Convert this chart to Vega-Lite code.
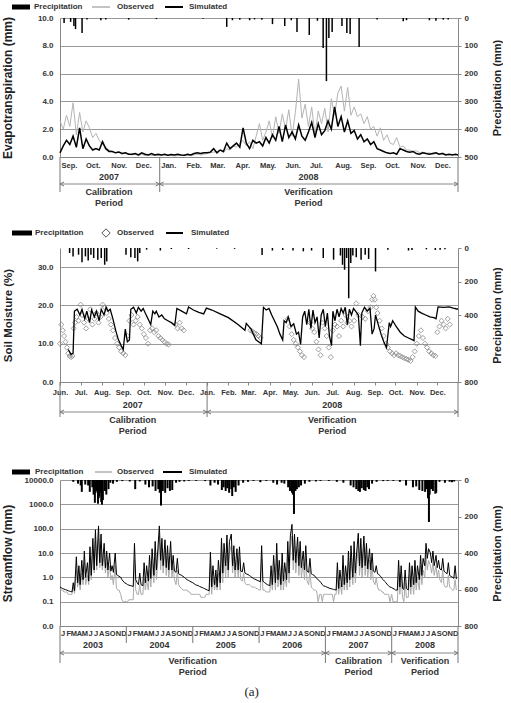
{
"$schema":"https://vega.github.io/schema/vega-lite/v6.json",
"padding":{"left":1,"top":0,"right":0,"bottom":4},
"spacing":0,
"bounds":"flush",
"title":{"text":"(a)","orient":"bottom","anchor":"middle","font":"Liberation Serif","fontSize":13,"fontWeight":"normal","color":"#222","offset":6},
"config":{"view":{"stroke":null},"font":"Liberation Sans",
 "axis":{"labelFont":"Liberation Sans","labelFontWeight":"bold","labelColor":"#333","titleFont":"Liberation Sans","titleFontWeight":"bold","titleColor":"#222","domainColor":"#888","tickColor":"#888","gridColor":"#999","labelFontSize":8,"labelOverlap":false},
 "text":{"font":"Liberation Sans","fontWeight":"bold","color":"#333"}},
"vconcat":[
{"width":398,"height":18,
 "encoding":{"y":{"datum":7,"type":"quantitative","scale":{"domain":[0,18],"reverse":true,"nice":false},"axis":null}},
 "layer":[
  {"data":{"values":[{"a":-48,"b":-30}]},"mark":{"type":"rule","color":"#000","strokeWidth":5},"encoding":{"x":{"field":"a","type":"quantitative","scale":{"domain":[0,398],"nice":false},"axis":null},"x2":{"field":"b"}}},
  {"data":{"values":[{"a":32,"b":50}]},"mark":{"type":"rule","color":"#b0b0b0","strokeWidth":1.5},"encoding":{"x":{"field":"a","type":"quantitative","scale":{"domain":[0,398],"nice":false},"axis":null},"x2":{"field":"b"}}},
  {"data":{"values":[{"a":105,"b":123}]},"mark":{"type":"rule","color":"#000","strokeWidth":2},"encoding":{"x":{"field":"a","type":"quantitative","scale":{"domain":[0,398],"nice":false},"axis":null},"x2":{"field":"b"}}},
  {"data":{"values":[{"a":-26,"t":"Precipitation"},{"a":57,"t":"Observed"},{"a":129,"t":"Simulated"}]},"mark":{"type":"text","align":"left","baseline":"middle","fontSize":8},"encoding":{"x":{"field":"a","type":"quantitative","scale":{"domain":[0,398],"nice":false},"axis":null},"text":{"field":"t"}}}
 ]},
{"width":398,"height":139,
 "encoding":{"x":{"field":"d","type":"temporal","scale":{"domain":[{"year":2007,"month":9,"date":1},{"year":2008,"month":12,"date":31}]},"axis":{"title":null,"format":"%b.","tickCount":{"interval":"month","step":1},"labelAlign":"left","labelFontSize":7.5,"labelPadding":4,"ticks":false,"grid":false,"labelOverlap":false,"labelFlush":false,"labelBound":false,"labelOffset":1}}},
 "layer":[
  {"data":{"values":[
{"d":"2007-09-01","o":2.6,"s":0.3},{"d":"2007-09-05","o":2.0,"s":0.8},{"d":"2007-09-09","o":3.0,"s":1.2},{"d":"2007-09-13","o":2.2,"s":0.9},{"d":"2007-09-17","o":3.9,"s":1.5},{"d":"2007-09-21","o":1.6,"s":0.7},{"d":"2007-09-25","o":3.2,"s":2.1},{"d":"2007-09-29","o":1.8,"s":0.6},
{"d":"2007-10-03","o":2.6,"s":1.3},{"d":"2007-10-07","o":2.1,"s":0.8},{"d":"2007-10-11","o":1.4,"s":0.5},{"d":"2007-10-15","o":1.7,"s":0.6},{"d":"2007-10-19","o":1.2,"s":0.5},{"d":"2007-10-23","o":0.9,"s":1.1},{"d":"2007-10-27","o":0.7,"s":0.6},{"d":"2007-10-31","o":0.5,"s":0.4},
{"d":"2007-11-04","o":0.4,"s":0.4},{"d":"2007-11-08","o":0.3,"s":0.3},{"d":"2007-11-12","o":0.35,"s":0.35},{"d":"2007-11-16","o":0.2,"s":0.25},{"d":"2007-11-20","o":0.3,"s":0.3},{"d":"2007-11-24","o":0.2,"s":0.2},{"d":"2007-11-28","o":0.15,"s":0.2},
{"d":"2007-12-02","o":0.2,"s":0.25},{"d":"2007-12-06","o":0.1,"s":0.15},{"d":"2007-12-10","o":0.2,"s":0.3},{"d":"2007-12-14","o":0.1,"s":0.2},{"d":"2007-12-18","o":0.15,"s":0.15},{"d":"2007-12-22","o":0.1,"s":0.25},{"d":"2007-12-26","o":0.12,"s":0.15},{"d":"2007-12-30","o":0.1,"s":0.2},
{"d":"2008-01-03","o":0.1,"s":0.15},{"d":"2008-01-07","o":0.15,"s":0.2},{"d":"2008-01-11","o":0.1,"s":0.12},{"d":"2008-01-15","o":0.12,"s":0.18},{"d":"2008-01-19","o":0.08,"s":0.15},{"d":"2008-01-23","o":0.1,"s":0.2},{"d":"2008-01-27","o":0.15,"s":0.15},{"d":"2008-01-31","o":0.1,"s":0.12},
{"d":"2008-02-04","o":0.12,"s":0.2},{"d":"2008-02-08","o":0.1,"s":0.15},{"d":"2008-02-12","o":0.15,"s":0.25},{"d":"2008-02-16","o":0.2,"s":0.3},{"d":"2008-02-20","o":0.15,"s":0.25},{"d":"2008-02-24","o":0.2,"s":0.3},{"d":"2008-02-28","o":0.25,"s":0.3},
{"d":"2008-03-03","o":0.3,"s":0.35},{"d":"2008-03-07","o":0.35,"s":0.6},{"d":"2008-03-11","o":0.4,"s":0.3},{"d":"2008-03-15","o":0.5,"s":0.5},{"d":"2008-03-19","o":0.3,"s":0.4},{"d":"2008-03-23","o":0.6,"s":1.0},{"d":"2008-03-27","o":0.5,"s":0.6},{"d":"2008-03-31","o":0.8,"s":0.8},
{"d":"2008-04-04","o":0.7,"s":1.0},{"d":"2008-04-08","o":1.0,"s":0.7},{"d":"2008-04-12","o":1.2,"s":2.1},{"d":"2008-04-16","o":0.8,"s":1.0},{"d":"2008-04-20","o":1.1,"s":0.6},{"d":"2008-04-24","o":0.6,"s":1.2},{"d":"2008-04-28","o":1.5,"s":1.0},
{"d":"2008-05-02","o":2.4,"s":1.1},{"d":"2008-05-06","o":1.2,"s":0.8},{"d":"2008-05-10","o":1.8,"s":1.4},{"d":"2008-05-14","o":2.6,"s":1.0},{"d":"2008-05-18","o":1.4,"s":1.6},{"d":"2008-05-22","o":2.9,"s":1.2},{"d":"2008-05-26","o":1.7,"s":2.2},{"d":"2008-05-30","o":3.1,"s":1.1},
{"d":"2008-06-03","o":2.0,"s":2.3},{"d":"2008-06-07","o":3.4,"s":1.4},{"d":"2008-06-11","o":1.5,"s":1.8},{"d":"2008-06-15","o":3.2,"s":1.3},{"d":"2008-06-19","o":5.6,"s":2.3},{"d":"2008-06-23","o":2.8,"s":1.5},{"d":"2008-06-27","o":3.8,"s":1.2},
{"d":"2008-07-01","o":2.2,"s":1.8},{"d":"2008-07-05","o":3.6,"s":2.5},{"d":"2008-07-09","o":1.6,"s":1.4},{"d":"2008-07-13","o":3.3,"s":2.4},{"d":"2008-07-17","o":2.4,"s":1.6},{"d":"2008-07-21","o":3.5,"s":1.9},{"d":"2008-07-25","o":1.8,"s":2.6},{"d":"2008-07-29","o":4.2,"s":2.0},
{"d":"2008-08-02","o":3.0,"s":3.6},{"d":"2008-08-06","o":4.6,"s":2.2},{"d":"2008-08-10","o":5.1,"s":2.9},{"d":"2008-08-14","o":3.3,"s":1.8},{"d":"2008-08-18","o":5.0,"s":2.6},{"d":"2008-08-22","o":3.0,"s":1.7},{"d":"2008-08-26","o":3.6,"s":1.9},{"d":"2008-08-30","o":2.9,"s":1.3},
{"d":"2008-09-03","o":3.1,"s":1.6},{"d":"2008-09-07","o":2.4,"s":1.1},{"d":"2008-09-11","o":2.9,"s":1.3},{"d":"2008-09-15","o":2.0,"s":0.9},{"d":"2008-09-19","o":2.2,"s":1.1},{"d":"2008-09-23","o":1.5,"s":0.6},{"d":"2008-09-27","o":2.1,"s":0.5},
{"d":"2008-10-01","o":1.2,"s":0.4},{"d":"2008-10-05","o":1.6,"s":0.3},{"d":"2008-10-09","o":1.0,"s":0.25},{"d":"2008-10-13","o":0.9,"s":0.3},{"d":"2008-10-17","o":1.4,"s":0.2},{"d":"2008-10-21","o":0.7,"s":0.6},{"d":"2008-10-25","o":0.8,"s":0.5},{"d":"2008-10-29","o":0.5,"s":0.4},
{"d":"2008-11-02","o":0.5,"s":0.35},{"d":"2008-11-06","o":0.4,"s":0.4},{"d":"2008-11-10","o":0.45,"s":0.25},{"d":"2008-11-14","o":0.3,"s":0.2},{"d":"2008-11-18","o":0.35,"s":0.3},{"d":"2008-11-22","o":0.25,"s":0.25},{"d":"2008-11-26","o":0.3,"s":0.2},{"d":"2008-11-30","o":0.2,"s":0.25},
{"d":"2008-12-04","o":0.25,"s":0.3},{"d":"2008-12-08","o":0.2,"s":0.2},{"d":"2008-12-12","o":0.3,"s":0.25},{"d":"2008-12-16","o":0.2,"s":0.15},{"d":"2008-12-20","o":0.15,"s":0.2},{"d":"2008-12-24","o":0.2,"s":0.15},{"d":"2008-12-28","o":0.15,"s":0.2},{"d":"2008-12-31","o":0.2,"s":0.15}
  ]},
  "layer":[
   {"mark":{"type":"line","color":"#b4b4b4","strokeWidth":1},"encoding":{"y":{"field":"o","type":"quantitative","title":"Evapotranspiration (mm)","scale":{"domain":[0,10],"nice":false},"axis":{"orient":"left","values":[0,2,4,6,8,10],"format":".1f","ticks":false,"labelPadding":7,"grid":true,"labelOverlap":false,"titleFontSize":12,"titlePadding":23}}}},
   {"mark":{"type":"line","color":"#000","strokeWidth":1.5},"encoding":{"y":{"field":"s","type":"quantitative","title":"Evapotranspiration (mm)","scale":{"domain":[0,10],"nice":false},"axis":{"orient":"left","values":[0,2,4,6,8,10],"format":".1f","ticks":false,"labelPadding":7,"grid":true,"labelOverlap":false,"titleFontSize":12,"titlePadding":23}}}}
  ]},
  {"data":{"values":[
{"d":"2007-09-06","p":18},{"d":"2007-09-14","p":14},{"d":"2007-09-18","p":29},{"d":"2007-09-20","p":40},{"d":"2007-09-28","p":54},{"d":"2007-10-04","p":5},{"d":"2007-10-21","p":8},{"d":"2007-10-27","p":5},{"d":"2007-11-24","p":6},{"d":"2007-12-28","p":4},
{"d":"2008-02-23","p":3},{"d":"2008-03-23","p":32},{"d":"2008-03-30","p":8},{"d":"2008-04-08","p":6},{"d":"2008-04-20","p":8},{"d":"2008-04-26","p":5},{"d":"2008-05-05","p":6},{"d":"2008-05-18","p":22},{"d":"2008-06-02","p":29},{"d":"2008-06-10","p":8},{"d":"2008-06-17","p":50},
{"d":"2008-07-02","p":61},{"d":"2008-07-12","p":10},{"d":"2008-07-19","p":108},{"d":"2008-07-23","p":227},{"d":"2008-07-26","p":72},{"d":"2008-07-30","p":50},{"d":"2008-08-11","p":29},{"d":"2008-08-17","p":54},{"d":"2008-08-21","p":58},{"d":"2008-09-01","p":104},{"d":"2008-09-23","p":5},
{"d":"2008-10-25","p":12},{"d":"2008-10-29","p":8},{"d":"2008-11-26","p":8},{"d":"2008-12-04","p":10},{"d":"2008-12-13","p":6},{"d":"2008-12-19","p":5}
  ]},
  "mark":{"type":"rule","color":"#000","strokeWidth":1.5},
  "encoding":{"y":{"field":"p","type":"quantitative","title":"Precipitation (mm)","scale":{"domain":[0,500],"reverse":true,"nice":false},"axis":{"orient":"right","values":[0,100,200,300,400,500],"format":"d","tickSize":3,"labelPadding":3,"grid":false,"labelOverlap":false,"titleFontSize":11,"titleAngle":270,"titleBaseline":"top","titlePadding":14}},"y2":{"datum":0}}}
 ],
 "resolve":{"scale":{"y":"independent"}}},
{"width":398,"height":69,
 "encoding":{"y":{"datum":0,"type":"quantitative","scale":{"domain":[0,69],"reverse":true,"nice":false},"axis":null}},
 "layer":[
  {"data":{"values":[{"d":"2007-09-01"},{"d":"2008-01-01"},{"d":"2008-12-31"}]},"mark":{"type":"rule","color":"#777","strokeWidth":1},"encoding":{"x":{"field":"d","type":"temporal","scale":{"domain":[{"year":2007,"month":9,"date":1},{"year":2008,"month":12,"date":31}]},"axis":null},"y2":{"datum":35}}},
  {"data":{"values":[{"m":"2007-10-31","t":"2007"},{"m":"2008-07-01","t":"2008"}]},"mark":{"type":"text","fontSize":9,"baseline":"middle"},"encoding":{"x":{"field":"m","type":"temporal","scale":{"domain":[{"year":2007,"month":9,"date":1},{"year":2008,"month":12,"date":31}]},"axis":null},"y":{"datum":20,"type":"quantitative","scale":{"domain":[0,69],"reverse":true,"nice":false},"axis":null},"text":{"field":"t"}}},
  {"data":{"values":[{"a":"2007-09-01","b":"2008-01-01"},{"a":"2008-01-01","b":"2008-12-31"}]},
   "encoding":{"y":{"datum":27,"type":"quantitative","scale":{"domain":[0,69],"reverse":true,"nice":false},"axis":null}},
   "layer":[
    {"mark":{"type":"rule","color":"#888","strokeWidth":1},"encoding":{"x":{"field":"a","type":"temporal","scale":{"domain":[{"year":2007,"month":9,"date":1},{"year":2008,"month":12,"date":31}]},"axis":null},"x2":{"field":"b"}}},
    {"mark":{"type":"point","shape":"M2,-1L0,0L2,1","filled":false,"size":16,"color":"#777","strokeWidth":1,"opacity":1},"encoding":{"x":{"field":"a","type":"temporal","scale":{"domain":[{"year":2007,"month":9,"date":1},{"year":2008,"month":12,"date":31}]},"axis":null}}},
    {"mark":{"type":"point","shape":"M-2,-1L0,0L-2,1","filled":false,"size":16,"color":"#777","strokeWidth":1,"opacity":1},"encoding":{"x":{"field":"b","type":"temporal","scale":{"domain":[{"year":2007,"month":9,"date":1},{"year":2008,"month":12,"date":31}]},"axis":null}}}
   ]},
  {"data":{"values":[{"m":"2007-10-31","t":"Calibration\nPeriod"},{"m":"2008-07-01","t":"Verification\nPeriod"}]},"mark":{"type":"text","fontSize":9,"baseline":"top","lineBreak":"\n","lineHeight":11},"encoding":{"x":{"field":"m","type":"temporal","scale":{"domain":[{"year":2007,"month":9,"date":1},{"year":2008,"month":12,"date":31}]},"axis":null},"y":{"datum":31,"type":"quantitative","scale":{"domain":[0,69],"reverse":true,"nice":false},"axis":null},"text":{"field":"t"}}}
 ]},
{"width":398,"height":22,
 "encoding":{"y":{"datum":7,"type":"quantitative","scale":{"domain":[0,22],"reverse":true,"nice":false},"axis":null}},
 "layer":[
  {"data":{"values":[{"a":-48,"b":-28}]},"mark":{"type":"rule","color":"#000","strokeWidth":5},"encoding":{"x":{"field":"a","type":"quantitative","scale":{"domain":[0,398],"nice":false},"axis":null},"x2":{"field":"b"}}},
  {"data":{"values":[{"a":46}]},"mark":{"type":"point","shape":"diamond","filled":false,"size":70,"color":"#555","strokeWidth":1,"opacity":1},"encoding":{"x":{"field":"a","type":"quantitative","scale":{"domain":[0,398],"nice":false},"axis":null}}},
  {"data":{"values":[{"a":106,"b":123}]},"mark":{"type":"rule","color":"#000","strokeWidth":2},"encoding":{"x":{"field":"a","type":"quantitative","scale":{"domain":[0,398],"nice":false},"axis":null},"x2":{"field":"b"}}},
  {"data":{"values":[{"a":-25,"t":"Precipitation"},{"a":57,"t":"Observed"},{"a":131,"t":"Simulated"}]},"mark":{"type":"text","align":"left","baseline":"middle","fontSize":8},"encoding":{"x":{"field":"a","type":"quantitative","scale":{"domain":[0,398],"nice":false},"axis":null},"text":{"field":"t"}}}
 ]},
{"width":398,"height":134,
 "encoding":{"x":{"field":"d","type":"temporal","scale":{"domain":[{"year":2007,"month":6,"date":1},{"year":2008,"month":12,"date":31}]},"axis":{"title":null,"format":"%b.","tickCount":{"interval":"month","step":1},"labelAlign":"center","labelFontSize":7.5,"labelPadding":3,"ticks":true,"tickSize":3,"grid":false,"labelOverlap":false,"labelFlush":false,"labelBound":false}}},
 "layer":[
  {"layer":[
   {"data":{"values":[
{"d":"2007-06-01","v":10.0},{"d":"2007-06-03","v":15.0},{"d":"2007-06-05","v":13.5},{"d":"2007-06-07","v":12.0},{"d":"2007-06-09","v":10.5},{"d":"2007-06-11","v":9.0},{"d":"2007-06-13","v":7.5},{"d":"2007-06-15","v":6.8},{"d":"2007-06-17","v":6.5},{"d":"2007-06-19","v":6.8},{"d":"2007-06-21","v":14.0},{"d":"2007-06-23","v":15.5},{"d":"2007-06-25","v":17.0},{"d":"2007-06-28","v":16.0},
{"d":"2007-07-01","v":20.2},{"d":"2007-07-03","v":17.5},{"d":"2007-07-06","v":15.5},{"d":"2007-07-09","v":14.0},{"d":"2007-07-12","v":16.5},{"d":"2007-07-15","v":19.0},{"d":"2007-07-18","v":15.0},{"d":"2007-07-21","v":16.5},{"d":"2007-07-24","v":18.0},{"d":"2007-07-27","v":15.5},{"d":"2007-07-30","v":17.0},
{"d":"2007-08-02","v":20.2},{"d":"2007-08-05","v":19.5},{"d":"2007-08-08","v":18.0},{"d":"2007-08-11","v":16.5},{"d":"2007-08-14","v":15.0},{"d":"2007-08-17","v":13.5},{"d":"2007-08-20","v":11.5},{"d":"2007-08-23","v":10.0},{"d":"2007-08-26","v":9.0},{"d":"2007-08-29","v":8.0},
{"d":"2007-09-01","v":7.5},{"d":"2007-09-04","v":7.0},{"d":"2007-09-07","v":12.0},{"d":"2007-09-10","v":16.0},{"d":"2007-09-13","v":17.5},{"d":"2007-09-16","v":15.0},{"d":"2007-09-19","v":16.0},{"d":"2007-09-22","v":17.0},{"d":"2007-09-25","v":15.0},{"d":"2007-09-28","v":14.0},
{"d":"2007-10-01","v":12.5},{"d":"2007-10-04","v":11.5},{"d":"2007-10-07","v":10.0},{"d":"2007-10-10","v":13.5},{"d":"2007-10-13","v":14.0},{"d":"2007-10-16","v":13.0},{"d":"2007-10-19","v":13.5},{"d":"2007-10-22","v":12.0},{"d":"2007-10-25","v":11.5},{"d":"2007-10-28","v":11.0},{"d":"2007-10-31","v":10.5},
{"d":"2007-11-03","v":10.0},{"d":"2007-11-06","v":9.8},{"d":"2007-11-16","v":15.0},{"d":"2007-11-19","v":14.0},{"d":"2007-11-22","v":15.5},{"d":"2007-11-25","v":14.0},{"d":"2007-11-28","v":13.5},
{"d":"2008-03-04","v":13.5},{"d":"2008-03-07","v":13.2},{"d":"2008-03-10","v":12.8},{"d":"2008-03-13","v":12.5},{"d":"2008-03-16","v":12.0},{"d":"2008-03-19","v":11.5},
{"d":"2008-04-27","v":16.5},{"d":"2008-04-30","v":14.5},{"d":"2008-05-03","v":12.5},{"d":"2008-05-06","v":11.0},{"d":"2008-05-09","v":10.0},{"d":"2008-05-12","v":9.0},{"d":"2008-05-15","v":8.0},{"d":"2008-05-18","v":7.0},{"d":"2008-05-21","v":6.5},
{"d":"2008-05-30","v":15.5},{"d":"2008-06-02","v":14.0},{"d":"2008-06-05","v":13.0},{"d":"2008-06-08","v":10.5},{"d":"2008-06-11","v":8.5},{"d":"2008-06-14","v":7.0},{"d":"2008-06-17","v":15.5},{"d":"2008-06-20","v":14.0},{"d":"2008-06-23","v":12.0},{"d":"2008-06-26","v":9.0},{"d":"2008-06-29","v":6.5},
{"d":"2008-07-02","v":13.5},{"d":"2008-07-05","v":15.0},{"d":"2008-07-08","v":14.5},{"d":"2008-07-11","v":12.0},{"d":"2008-07-14","v":16.0},{"d":"2008-07-17","v":14.5},{"d":"2008-07-20","v":17.5},{"d":"2008-07-23","v":15.5},{"d":"2008-07-26","v":16.0},{"d":"2008-07-29","v":14.5},
{"d":"2008-08-02","v":16.0},{"d":"2008-08-05","v":20.5},{"d":"2008-08-08","v":17.5},{"d":"2008-08-14","v":17.0},{"d":"2008-08-18","v":16.5},{"d":"2008-08-22","v":18.5},{"d":"2008-08-26","v":19.5},{"d":"2008-08-28","v":21.5},{"d":"2008-08-30","v":22.5},
{"d":"2008-09-01","v":21.5},{"d":"2008-09-03","v":19.5},{"d":"2008-09-05","v":18.0},{"d":"2008-09-08","v":16.0},{"d":"2008-09-11","v":14.0},{"d":"2008-09-14","v":12.0},{"d":"2008-09-17","v":10.0},{"d":"2008-09-20","v":9.0},{"d":"2008-09-23","v":8.0},{"d":"2008-09-26","v":7.5},{"d":"2008-09-29","v":7.0},
{"d":"2008-10-02","v":7.5},{"d":"2008-10-05","v":7.0},{"d":"2008-10-08","v":6.8},{"d":"2008-10-11","v":6.5},{"d":"2008-10-14","v":6.2},{"d":"2008-10-17","v":6.0},{"d":"2008-10-20","v":5.8},{"d":"2008-10-23","v":5.5},{"d":"2008-10-26","v":6.5},{"d":"2008-10-29","v":8.0},
{"d":"2008-11-01","v":10.0},{"d":"2008-11-04","v":12.0},{"d":"2008-11-07","v":13.5},{"d":"2008-11-10","v":11.5},{"d":"2008-11-13","v":10.0},{"d":"2008-11-16","v":9.0},{"d":"2008-11-19","v":8.0},{"d":"2008-11-22","v":7.5},{"d":"2008-11-25","v":7.0},{"d":"2008-11-28","v":6.8},
{"d":"2008-12-01","v":13.0},{"d":"2008-12-04","v":14.5},{"d":"2008-12-07","v":16.0},{"d":"2008-12-10","v":15.0},{"d":"2008-12-13","v":14.0},{"d":"2008-12-16","v":16.5},{"d":"2008-12-19","v":15.0}
   ]},
   "mark":{"type":"point","shape":"diamond","filled":false,"size":26,"color":"#888","strokeWidth":0.8,"opacity":1},
   "encoding":{"y":{"field":"v","type":"quantitative","title":"Soil Moisture (%)","scale":{"domain":[0,35],"nice":false},"axis":{"orient":"left","values":[0,10,20,30],"format":".1f","ticks":false,"labelPadding":7,"grid":true,"labelOverlap":false,"titleFontSize":11.5,"titlePadding":24}}}},
   {"data":{"values":[
{"d":"2007-06-13","v":8.5},{"d":"2007-06-17","v":7.2},{"d":"2007-06-20","v":7.5},{"d":"2007-06-22","v":18.5},{"d":"2007-06-26","v":19.0},{"d":"2007-06-30","v":17.5},{"d":"2007-07-03","v":19.0},{"d":"2007-07-07","v":16.5},{"d":"2007-07-10","v":18.5},{"d":"2007-07-14","v":15.5},{"d":"2007-07-17","v":18.8},{"d":"2007-07-21","v":17.0},{"d":"2007-07-24","v":18.5},{"d":"2007-07-28","v":16.0},{"d":"2007-07-31","v":19.0},
{"d":"2007-08-04","v":17.5},{"d":"2007-08-07","v":19.5},{"d":"2007-08-10","v":18.5},{"d":"2007-08-13","v":19.0},{"d":"2007-08-17","v":16.5},{"d":"2007-08-21","v":13.5},{"d":"2007-08-25","v":11.0},{"d":"2007-08-29","v":9.5},{"d":"2007-09-01","v":8.5},{"d":"2007-09-04","v":13.8},{"d":"2007-09-07","v":10.5},{"d":"2007-09-10","v":11.0},{"d":"2007-09-12","v":19.0},{"d":"2007-09-16","v":19.5},{"d":"2007-09-20","v":18.0},{"d":"2007-09-23","v":19.5},{"d":"2007-09-27","v":18.5},{"d":"2007-09-30","v":19.2},
{"d":"2007-10-03","v":18.0},{"d":"2007-10-07","v":16.5},{"d":"2007-10-11","v":15.0},{"d":"2007-10-14","v":18.5},{"d":"2007-10-17","v":17.8},{"d":"2007-10-19","v":18.5},{"d":"2007-10-23","v":17.0},{"d":"2007-10-27","v":17.5},{"d":"2007-10-31","v":16.5},{"d":"2007-11-05","v":16.0},{"d":"2007-11-10","v":15.5},{"d":"2007-11-15","v":14.8},{"d":"2007-11-18","v":19.2},{"d":"2007-11-25","v":18.5},
{"d":"2007-12-02","v":17.8},{"d":"2007-12-05","v":19.6},{"d":"2007-12-12","v":18.8},{"d":"2007-12-20","v":18.2},{"d":"2007-12-27","v":17.8},{"d":"2007-12-31","v":19.3},{"d":"2008-01-08","v":18.8},{"d":"2008-01-20","v":17.8},{"d":"2008-02-01","v":16.8},{"d":"2008-02-15","v":15.0},{"d":"2008-02-25","v":13.5},{"d":"2008-02-27","v":15.3},{"d":"2008-03-05","v":13.8},{"d":"2008-03-12","v":11.0},{"d":"2008-03-20","v":10.0},
{"d":"2008-03-23","v":19.5},{"d":"2008-03-27","v":18.8},{"d":"2008-03-31","v":19.2},{"d":"2008-04-04","v":17.5},{"d":"2008-04-08","v":16.0},{"d":"2008-04-12","v":14.5},{"d":"2008-04-16","v":12.5},{"d":"2008-04-20","v":11.0},{"d":"2008-04-22","v":16.0},{"d":"2008-04-25","v":15.5},{"d":"2008-04-28","v":17.0},
{"d":"2008-05-02","v":14.5},{"d":"2008-05-06","v":15.2},{"d":"2008-05-10","v":12.5},{"d":"2008-05-13","v":13.0},{"d":"2008-05-16","v":9.8},{"d":"2008-05-19","v":17.0},{"d":"2008-05-22","v":18.5},{"d":"2008-05-25","v":15.0},{"d":"2008-05-28","v":19.0},{"d":"2008-05-31","v":14.0},
{"d":"2008-06-03","v":18.8},{"d":"2008-06-06","v":15.5},{"d":"2008-06-09","v":17.0},{"d":"2008-06-12","v":11.5},{"d":"2008-06-15","v":17.5},{"d":"2008-06-18","v":19.0},{"d":"2008-06-21","v":14.5},{"d":"2008-06-24","v":18.0},{"d":"2008-06-27","v":12.0},{"d":"2008-06-30","v":9.5},
{"d":"2008-07-02","v":18.5},{"d":"2008-07-05","v":16.0},{"d":"2008-07-08","v":19.0},{"d":"2008-07-11","v":17.0},{"d":"2008-07-14","v":19.2},{"d":"2008-07-17","v":18.0},{"d":"2008-07-20","v":19.5},{"d":"2008-07-23","v":15.0},{"d":"2008-07-26","v":19.0},{"d":"2008-07-29","v":17.5},
{"d":"2008-08-01","v":19.2},{"d":"2008-08-04","v":18.5},{"d":"2008-08-08","v":17.5},{"d":"2008-08-11","v":9.5},{"d":"2008-08-13","v":18.0},{"d":"2008-08-17","v":19.5},{"d":"2008-08-21","v":18.5},{"d":"2008-08-25","v":19.3},{"d":"2008-08-28","v":12.5},{"d":"2008-08-31","v":14.0},
{"d":"2008-09-02","v":17.5},{"d":"2008-09-06","v":15.0},{"d":"2008-09-10","v":12.5},{"d":"2008-09-14","v":10.5},{"d":"2008-09-18","v":9.0},{"d":"2008-09-22","v":15.5},{"d":"2008-09-24","v":14.5},{"d":"2008-09-27","v":16.0},{"d":"2008-10-02","v":14.5},{"d":"2008-10-08","v":13.0},{"d":"2008-10-14","v":12.0},{"d":"2008-10-20","v":11.5},{"d":"2008-10-26","v":11.0},{"d":"2008-10-28","v":10.8},
{"d":"2008-10-30","v":19.6},{"d":"2008-11-03","v":18.5},{"d":"2008-11-08","v":18.0},{"d":"2008-11-14","v":17.5},{"d":"2008-11-20","v":17.0},{"d":"2008-11-26","v":16.8},{"d":"2008-11-29","v":16.5},{"d":"2008-12-02","v":19.6},{"d":"2008-12-10","v":19.5},{"d":"2008-12-18","v":19.6},{"d":"2008-12-24","v":19.3},{"d":"2008-12-31","v":19.0}
   ]},
   "mark":{"type":"line","color":"#000","strokeWidth":1.3},
   "encoding":{"y":{"field":"v","type":"quantitative","title":"Soil Moisture (%)","scale":{"domain":[0,35],"nice":false},"axis":{"orient":"left","values":[0,10,20,30],"format":".1f","ticks":false,"labelPadding":7,"grid":true,"labelOverlap":false,"titleFontSize":11.5,"titlePadding":24}}}}
  ]},
  {"data":{"values":[
{"d":"2007-06-15","p":30},{"d":"2007-06-20","p":50},{"d":"2007-06-28","p":40},{"d":"2007-07-03","p":85},{"d":"2007-07-08","p":50},{"d":"2007-07-12","p":75},{"d":"2007-07-16","p":40},{"d":"2007-07-20","p":60},{"d":"2007-07-26","p":70},{"d":"2007-07-31","p":60},{"d":"2007-08-05","p":100},{"d":"2007-08-08","p":80},
{"d":"2007-09-05","p":40},{"d":"2007-09-12","p":55},{"d":"2007-09-18","p":60},{"d":"2007-09-22","p":80},{"d":"2007-09-25","p":30},{"d":"2007-10-05","p":10},{"d":"2007-10-25","p":15},{"d":"2007-11-10","p":6},{"d":"2007-12-05","p":6},
{"d":"2008-01-15","p":4},{"d":"2008-02-10","p":5},{"d":"2008-03-21","p":42},{"d":"2008-04-05","p":15},{"d":"2008-04-20","p":12},{"d":"2008-05-05","p":15},{"d":"2008-05-20","p":20},{"d":"2008-06-01","p":15},{"d":"2008-06-18","p":60},{"d":"2008-07-03","p":70},{"d":"2008-07-13","p":45},{"d":"2008-07-16","p":100},{"d":"2008-07-19","p":130},{"d":"2008-07-22","p":60},{"d":"2008-07-25","p":300},{"d":"2008-07-28","p":90},{"d":"2008-07-31","p":45},
{"d":"2008-08-05","p":55},{"d":"2008-08-12","p":70},{"d":"2008-08-18","p":40},{"d":"2008-08-23","p":65},{"d":"2008-09-02","p":140},{"d":"2008-09-20","p":10},{"d":"2008-10-20","p":15},{"d":"2008-10-25","p":12},{"d":"2008-11-15","p":8},{"d":"2008-11-28","p":12},{"d":"2008-12-05","p":10},{"d":"2008-12-12","p":8}
  ]},
  "mark":{"type":"rule","color":"#000","strokeWidth":1.5},
  "encoding":{"y":{"field":"p","type":"quantitative","title":"Precipitation (mm)","scale":{"domain":[0,800],"reverse":true,"nice":false},"axis":{"orient":"right","values":[0,200,400,600,800],"format":"d","tickSize":3,"labelPadding":3,"grid":false,"labelOverlap":false,"titleFontSize":11,"titleAngle":270,"titleBaseline":"top","titlePadding":14}},"y2":{"datum":0}}}
 ],
 "resolve":{"scale":{"y":"independent"}}},
{"width":398,"height":82,
 "encoding":{"y":{"datum":0,"type":"quantitative","scale":{"domain":[0,82],"reverse":true,"nice":false},"axis":null}},
 "layer":[
  {"data":{"values":[{"d":"2007-06-01"},{"d":"2008-01-01"},{"d":"2008-12-31"}]},"mark":{"type":"rule","color":"#777","strokeWidth":1},"encoding":{"x":{"field":"d","type":"temporal","scale":{"domain":[{"year":2007,"month":6,"date":1},{"year":2008,"month":12,"date":31}]},"axis":null},"y2":{"datum":35}}},
  {"data":{"values":[{"m":"2007-09-15","t":"2007"},{"m":"2008-07-01","t":"2008"}]},"mark":{"type":"text","fontSize":9,"baseline":"middle"},"encoding":{"x":{"field":"m","type":"temporal","scale":{"domain":[{"year":2007,"month":6,"date":1},{"year":2008,"month":12,"date":31}]},"axis":null},"y":{"datum":23,"type":"quantitative","scale":{"domain":[0,82],"reverse":true,"nice":false},"axis":null},"text":{"field":"t"}}},
  {"data":{"values":[{"a":"2007-06-01","b":"2008-01-01"},{"a":"2008-01-01","b":"2008-12-31"}]},
   "encoding":{"y":{"datum":30,"type":"quantitative","scale":{"domain":[0,82],"reverse":true,"nice":false},"axis":null}},
   "layer":[
    {"mark":{"type":"rule","color":"#888","strokeWidth":1},"encoding":{"x":{"field":"a","type":"temporal","scale":{"domain":[{"year":2007,"month":6,"date":1},{"year":2008,"month":12,"date":31}]},"axis":null},"x2":{"field":"b"}}},
    {"mark":{"type":"point","shape":"M2,-1L0,0L2,1","filled":false,"size":16,"color":"#777","strokeWidth":1,"opacity":1},"encoding":{"x":{"field":"a","type":"temporal","scale":{"domain":[{"year":2007,"month":6,"date":1},{"year":2008,"month":12,"date":31}]},"axis":null}}},
    {"mark":{"type":"point","shape":"M-2,-1L0,0L-2,1","filled":false,"size":16,"color":"#777","strokeWidth":1,"opacity":1},"encoding":{"x":{"field":"b","type":"temporal","scale":{"domain":[{"year":2007,"month":6,"date":1},{"year":2008,"month":12,"date":31}]},"axis":null}}}
   ]},
  {"data":{"values":[{"m":"2007-09-15","t":"Calibration\nPeriod"},{"m":"2008-07-01","t":"Verification\nPeriod"}]},"mark":{"type":"text","fontSize":9,"baseline":"top","lineBreak":"\n","lineHeight":11},"encoding":{"x":{"field":"m","type":"temporal","scale":{"domain":[{"year":2007,"month":6,"date":1},{"year":2008,"month":12,"date":31}]},"axis":null},"y":{"datum":34,"type":"quantitative","scale":{"domain":[0,82],"reverse":true,"nice":false},"axis":null},"text":{"field":"t"}}}
 ]},
{"width":398,"height":16,
 "encoding":{"y":{"datum":8,"type":"quantitative","scale":{"domain":[0,16],"reverse":true,"nice":false},"axis":null}},
 "layer":[
  {"data":{"values":[{"a":-48,"b":-30}]},"mark":{"type":"rule","color":"#000","strokeWidth":5},"encoding":{"x":{"field":"a","type":"quantitative","scale":{"domain":[0,398],"nice":false},"axis":null},"x2":{"field":"b"}}},
  {"data":{"values":[{"a":35,"b":52}]},"mark":{"type":"rule","color":"#b0b0b0","strokeWidth":1.5},"encoding":{"x":{"field":"a","type":"quantitative","scale":{"domain":[0,398],"nice":false},"axis":null},"x2":{"field":"b"}}},
  {"data":{"values":[{"a":103,"b":122}]},"mark":{"type":"rule","color":"#000","strokeWidth":2},"encoding":{"x":{"field":"a","type":"quantitative","scale":{"domain":[0,398],"nice":false},"axis":null},"x2":{"field":"b"}}},
  {"data":{"values":[{"a":-25,"t":"Precipitation"},{"a":57,"t":"Observed"},{"a":129,"t":"Simulated"}]},"mark":{"type":"text","align":"left","baseline":"middle","fontSize":8},"encoding":{"x":{"field":"a","type":"quantitative","scale":{"domain":[0,398],"nice":false},"axis":null},"text":{"field":"t"}}}
 ]},
{"width":398,"height":146,
 "encoding":{"x":{"field":"d","type":"temporal","scale":{"domain":[{"year":2003,"month":1,"date":1},{"year":2008,"month":12,"date":31}]},"axis":{"title":null,"format":"%b","labelExpr":"substring(datum.label,0,1)","tickCount":{"interval":"month","step":1},"labelAlign":"center","labelOffset":2.7,"labelFontSize":7.5,"labelPadding":3,"ticks":false,"grid":false,"labelOverlap":false,"labelFlush":false,"labelBound":false}}},
 "layer":[
  {"data":{"values":[
{"d":"2003-01-01","s":0.40,"o":0.35},{"d":"2003-01-08","s":0.37,"o":0.30},{"d":"2003-01-15","s":0.35,"o":0.30},{"d":"2003-01-22","s":0.33,"o":0.25},
{"d":"2003-02-01","s":0.31,"o":0.25},{"d":"2003-02-08","s":0.30,"o":0.25},{"d":"2003-02-15","s":0.28,"o":0.20},{"d":"2003-02-22","s":0.27,"o":0.20},
{"d":"2003-03-01","s":0.26,"o":0.2},{"d":"2003-03-08","s":0.25,"o":0.2},{"d":"2003-03-15","s":0.6,"o":0.4},{"d":"2003-03-22","s":0.28,"o":0.22},
{"d":"2003-04-01","s":7,"o":2},{"d":"2003-04-08","s":0.6,"o":0.4},{"d":"2003-04-15","s":3,"o":1},{"d":"2003-04-22","s":0.5,"o":0.3},
{"d":"2003-05-01","s":5,"o":1.5},{"d":"2003-05-08","s":0.8,"o":0.5},{"d":"2003-05-15","s":12,"o":4},{"d":"2003-05-22","s":1.0,"o":0.5},
{"d":"2003-06-01","s":4,"o":1.2},{"d":"2003-06-08","s":0.7,"o":0.5},{"d":"2003-06-15","s":18,"o":6},{"d":"2003-06-22","s":1.2,"o":0.8},
{"d":"2003-07-01","s":40,"o":15},{"d":"2003-07-08","s":2,"o":1.5},{"d":"2003-07-15","s":90,"o":30},{"d":"2003-07-22","s":3,"o":2},
{"d":"2003-08-01","s":130,"o":40},{"d":"2003-08-08","s":4,"o":2.5},{"d":"2003-08-15","s":60,"o":20},{"d":"2003-08-22","s":3,"o":2},
{"d":"2003-09-01","s":25,"o":8},{"d":"2003-09-08","s":2.5,"o":1.5},{"d":"2003-09-15","s":12,"o":4},{"d":"2003-09-22","s":2,"o":1},
{"d":"2003-10-01","s":10,"o":3},{"d":"2003-10-08","s":1.8,"o":0.8},{"d":"2003-10-15","s":3,"o":1.2},{"d":"2003-10-22","s":1.6,"o":0.5},
{"d":"2003-11-01","s":10,"o":3},{"d":"2003-11-08","s":1.3,"o":0.35},{"d":"2003-11-15","s":1.2,"o":0.3},{"d":"2003-11-22","s":1.1,"o":0.3},
{"d":"2003-12-01","s":1.0,"o":0.2},{"d":"2003-12-08","s":0.8,"o":0.12},{"d":"2003-12-15","s":0.7,"o":0.1},{"d":"2003-12-22","s":0.6,"o":0.1},
{"d":"2004-01-01","s":0.55,"o":0.1},{"d":"2004-01-08","s":0.5,"o":0.1},{"d":"2004-01-15","s":0.48,"o":0.12},{"d":"2004-01-22","s":0.46,"o":0.12},
{"d":"2004-02-01","s":0.44,"o":0.12},{"d":"2004-02-08","s":0.42,"o":0.12},{"d":"2004-02-15","s":25,"o":5},{"d":"2004-02-22","s":0.8,"o":0.3},
{"d":"2004-03-01","s":0.6,"o":0.2},{"d":"2004-03-08","s":0.5,"o":0.2},{"d":"2004-03-15","s":1.5,"o":0.5},{"d":"2004-03-22","s":0.5,"o":0.2},
{"d":"2004-04-01","s":0.45,"o":0.2},{"d":"2004-04-08","s":4,"o":1},{"d":"2004-04-15","s":0.6,"o":0.3},{"d":"2004-04-22","s":3,"o":0.8},
{"d":"2004-05-01","s":0.7,"o":0.3},{"d":"2004-05-08","s":8,"o":2},{"d":"2004-05-15","s":0.9,"o":0.4},{"d":"2004-05-22","s":15,"o":4},
{"d":"2004-06-01","s":1.2,"o":0.6},{"d":"2004-06-08","s":30,"o":10},{"d":"2004-06-15","s":2,"o":0.8},{"d":"2004-06-22","s":12,"o":4},
{"d":"2004-07-01","s":130,"o":50},{"d":"2004-07-08","s":5,"o":2},{"d":"2004-07-15","s":40,"o":15},{"d":"2004-07-22","s":3,"o":1.5},
{"d":"2004-08-01","s":35,"o":12},{"d":"2004-08-08","s":2.5,"o":1.2},{"d":"2004-08-15","s":20,"o":7},{"d":"2004-08-22","s":2,"o":1},
{"d":"2004-09-01","s":30,"o":10},{"d":"2004-09-08","s":2,"o":1},{"d":"2004-09-15","s":8,"o":3},{"d":"2004-09-22","s":1.8,"o":0.8},
{"d":"2004-10-01","s":1.6,"o":0.5},{"d":"2004-10-08","s":6,"o":2},{"d":"2004-10-15","s":1.4,"o":0.5},{"d":"2004-10-22","s":1.3,"o":0.4},
{"d":"2004-11-01","s":1.2,"o":0.35},{"d":"2004-11-08","s":1.1,"o":0.3},{"d":"2004-11-15","s":1.0,"o":0.3},{"d":"2004-11-22","s":0.9,"o":0.3},
{"d":"2004-12-01","s":0.8,"o":0.3},{"d":"2004-12-08","s":0.75,"o":0.25},{"d":"2004-12-15","s":0.7,"o":0.25},{"d":"2004-12-22","s":0.65,"o":0.2},
{"d":"2005-01-01","s":0.6,"o":0.2},{"d":"2005-01-08","s":0.55,"o":0.2},{"d":"2005-01-15","s":0.5,"o":0.2},{"d":"2005-01-22","s":0.48,"o":0.2},
{"d":"2005-02-01","s":0.45,"o":0.2},{"d":"2005-02-08","s":0.42,"o":0.2},{"d":"2005-02-15","s":0.4,"o":0.15},{"d":"2005-02-22","s":0.38,"o":0.15},
{"d":"2005-03-01","s":0.36,"o":0.15},{"d":"2005-03-08","s":0.34,"o":0.15},{"d":"2005-03-15","s":0.32,"o":0.2},{"d":"2005-03-22","s":0.3,"o":0.2},
{"d":"2005-04-01","s":0.28,"o":0.2},{"d":"2005-04-08","s":11,"o":3},{"d":"2005-04-15","s":0.4,"o":0.2},{"d":"2005-04-22","s":3,"o":1},
{"d":"2005-05-01","s":0.5,"o":0.3},{"d":"2005-05-08","s":2,"o":0.8},{"d":"2005-05-15","s":0.4,"o":0.3},{"d":"2005-05-22","s":5,"o":1.5},
{"d":"2005-06-01","s":0.6,"o":0.3},{"d":"2005-06-08","s":40,"o":12},{"d":"2005-06-15","s":1.5,"o":0.6},{"d":"2005-06-22","s":25,"o":8},
{"d":"2005-07-01","s":3,"o":1},{"d":"2005-07-08","s":55,"o":18},{"d":"2005-07-15","s":2,"o":1},{"d":"2005-07-22","s":30,"o":10},
{"d":"2005-08-01","s":60,"o":20},{"d":"2005-08-08","s":3,"o":1.5},{"d":"2005-08-15","s":20,"o":6},{"d":"2005-08-22","s":2,"o":1},
{"d":"2005-09-01","s":15,"o":5},{"d":"2005-09-08","s":2,"o":1},{"d":"2005-09-15","s":18,"o":6},{"d":"2005-09-22","s":1.8,"o":0.8},
{"d":"2005-10-01","s":1.7,"o":0.7},{"d":"2005-10-08","s":4,"o":1.5},{"d":"2005-10-15","s":1.5,"o":0.6},{"d":"2005-10-22","s":1.4,"o":0.5},
{"d":"2005-11-01","s":1.3,"o":0.5},{"d":"2005-11-08","s":1.2,"o":0.5},{"d":"2005-11-15","s":1.1,"o":0.45},{"d":"2005-11-22","s":1.0,"o":0.4},
{"d":"2005-12-01","s":0.9,"o":0.4},{"d":"2005-12-08","s":0.85,"o":0.4},{"d":"2005-12-15","s":0.8,"o":0.35},{"d":"2005-12-22","s":0.75,"o":0.35},
{"d":"2006-01-01","s":0.7,"o":0.3},{"d":"2006-01-08","s":0.65,"o":0.3},{"d":"2006-01-15","s":20,"o":6},{"d":"2006-01-22","s":0.7,"o":0.3},
{"d":"2006-02-01","s":0.6,"o":0.3},{"d":"2006-02-08","s":0.55,"o":0.25},{"d":"2006-02-15","s":0.5,"o":0.25},{"d":"2006-02-22","s":0.48,"o":0.25},
{"d":"2006-03-01","s":0.45,"o":0.25},{"d":"2006-03-08","s":3,"o":1},{"d":"2006-03-15","s":0.5,"o":0.3},{"d":"2006-03-22","s":8,"o":2},
{"d":"2006-04-01","s":0.6,"o":0.3},{"d":"2006-04-08","s":25,"o":8},{"d":"2006-04-15","s":0.8,"o":0.4},{"d":"2006-04-22","s":5,"o":1.5},
{"d":"2006-05-01","s":0.5,"o":0.3},{"d":"2006-05-08","s":10,"o":3},{"d":"2006-05-15","s":0.7,"o":0.3},{"d":"2006-05-22","s":4,"o":1.2},
{"d":"2006-06-01","s":0.8,"o":0.4},{"d":"2006-06-08","s":30,"o":10},{"d":"2006-06-15","s":1.5,"o":0.6},{"d":"2006-06-22","s":50,"o":15},
{"d":"2006-07-01","s":150,"o":50},{"d":"2006-07-08","s":5,"o":2},{"d":"2006-07-15","s":60,"o":20},{"d":"2006-07-22","s":4,"o":1.5},
{"d":"2006-08-01","s":45,"o":15},{"d":"2006-08-08","s":3,"o":1.2},{"d":"2006-08-15","s":30,"o":10},{"d":"2006-08-22","s":2.5,"o":1},
{"d":"2006-09-01","s":12,"o":4},{"d":"2006-09-08","s":2,"o":0.8},{"d":"2006-09-15","s":20,"o":6},{"d":"2006-09-22","s":1.8,"o":0.7},
{"d":"2006-10-01","s":1.6,"o":0.5},{"d":"2006-10-08","s":6,"o":2},{"d":"2006-10-15","s":1.4,"o":0.4},{"d":"2006-10-22","s":1.3,"o":0.35},
{"d":"2006-11-01","s":1.2,"o":0.3},{"d":"2006-11-08","s":1.0,"o":0.3},{"d":"2006-11-15","s":0.9,"o":0.25},{"d":"2006-11-22","s":0.8,"o":0.1},
{"d":"2006-12-01","s":0.7,"o":0.2},{"d":"2006-12-08","s":0.6,"o":0.2},{"d":"2006-12-15","s":0.5,"o":0.1},{"d":"2006-12-22","s":0.45,"o":0.2},
{"d":"2007-01-01","s":0.42,"o":0.2},{"d":"2007-01-08","s":0.4,"o":0.2},{"d":"2007-01-15","s":0.38,"o":0.2},{"d":"2007-01-22","s":0.36,"o":0.2},
{"d":"2007-02-01","s":0.34,"o":0.2},{"d":"2007-02-08","s":0.33,"o":0.2},{"d":"2007-02-15","s":0.32,"o":0.1},{"d":"2007-02-22","s":0.31,"o":0.2},
{"d":"2007-03-01","s":0.3,"o":0.2},{"d":"2007-03-08","s":4,"o":1},{"d":"2007-03-15","s":0.35,"o":0.2},{"d":"2007-03-22","s":2,"o":0.6},
{"d":"2007-04-01","s":0.4,"o":0.2},{"d":"2007-04-08","s":8,"o":2},{"d":"2007-04-15","s":0.5,"o":0.3},{"d":"2007-04-22","s":3,"o":1},
{"d":"2007-05-01","s":0.6,"o":0.3},{"d":"2007-05-08","s":12,"o":4},{"d":"2007-05-15","s":0.8,"o":0.4},{"d":"2007-05-22","s":20,"o":6},
{"d":"2007-06-01","s":1,"o":0.5},{"d":"2007-06-08","s":30,"o":10},{"d":"2007-06-15","s":1.5,"o":0.6},{"d":"2007-06-22","s":10,"o":3},
{"d":"2007-07-01","s":65,"o":20},{"d":"2007-07-08","s":3,"o":1.2},{"d":"2007-07-15","s":40,"o":12},{"d":"2007-07-22","s":2.5,"o":1},
{"d":"2007-08-01","s":50,"o":15},{"d":"2007-08-08","s":3,"o":1.2},{"d":"2007-08-15","s":25,"o":8},{"d":"2007-08-22","s":2.2,"o":1},
{"d":"2007-09-01","s":15,"o":5},{"d":"2007-09-08","s":2,"o":0.8},{"d":"2007-09-15","s":10,"o":3},{"d":"2007-09-22","s":1.8,"o":0.7},
{"d":"2007-10-01","s":1.6,"o":0.5},{"d":"2007-10-08","s":3,"o":1},{"d":"2007-10-15","s":1.4,"o":0.4},{"d":"2007-10-22","s":1.3,"o":0.3},
{"d":"2007-11-01","s":1.1,"o":0.3},{"d":"2007-11-08","s":0.9,"o":0.25},{"d":"2007-11-15","s":0.8,"o":0.25},{"d":"2007-11-22","s":0.7,"o":0.2},
{"d":"2007-12-01","s":0.6,"o":0.2},{"d":"2007-12-08","s":0.5,"o":0.2},{"d":"2007-12-15","s":0.45,"o":0.2},{"d":"2007-12-22","s":0.4,"o":0.1},
{"d":"2008-01-01","s":0.38,"o":0.2},{"d":"2008-01-08","s":0.35,"o":0.1},{"d":"2008-01-15","s":0.33,"o":0.1},{"d":"2008-01-22","s":0.3,"o":0.1},
{"d":"2008-02-01","s":0.3,"o":0.1},{"d":"2008-02-08","s":5,"o":1.5},{"d":"2008-02-15","s":0.4,"o":0.2},{"d":"2008-02-22","s":3,"o":1},
{"d":"2008-03-01","s":0.35,"o":0.15},{"d":"2008-03-08","s":0.32,"o":0.1},{"d":"2008-03-15","s":2,"o":0.6},{"d":"2008-03-22","s":0.35,"o":0.15},
{"d":"2008-04-01","s":0.3,"o":0.15},{"d":"2008-04-08","s":4,"o":1.2},{"d":"2008-04-15","s":0.4,"o":0.2},{"d":"2008-04-22","s":3,"o":1},
{"d":"2008-05-01","s":0.5,"o":0.2},{"d":"2008-05-08","s":5,"o":1.5},{"d":"2008-05-15","s":0.6,"o":0.3},{"d":"2008-05-22","s":3,"o":1},
{"d":"2008-06-01","s":0.8,"o":0.3},{"d":"2008-06-08","s":8,"o":3},{"d":"2008-06-15","s":1.2,"o":0.5},{"d":"2008-06-22","s":6,"o":2},
{"d":"2008-07-01","s":3,"o":1},{"d":"2008-07-08","s":25,"o":8},{"d":"2008-07-15","s":6,"o":2},{"d":"2008-07-22","s":15,"o":5},
{"d":"2008-08-01","s":10,"o":3},{"d":"2008-08-08","s":4,"o":1.5},{"d":"2008-08-15","s":12,"o":4},{"d":"2008-08-22","s":3,"o":1.2},
{"d":"2008-09-01","s":8,"o":3},{"d":"2008-09-08","s":2.5,"o":1},{"d":"2008-09-15","s":5,"o":2},{"d":"2008-09-22","s":2.2,"o":0.8},
{"d":"2008-10-01","s":2,"o":0.6},{"d":"2008-10-08","s":6,"o":2},{"d":"2008-10-15","s":1.8,"o":0.5},{"d":"2008-10-22","s":1.6,"o":0.4},
{"d":"2008-11-01","s":1.4,"o":0.4},{"d":"2008-11-08","s":4,"o":1.2},{"d":"2008-11-15","s":1.2,"o":0.4},{"d":"2008-11-22","s":1.1,"o":0.35},
{"d":"2008-12-01","s":1.0,"o":0.3},{"d":"2008-12-08","s":0.9,"o":0.3},{"d":"2008-12-15","s":3,"o":0.8},{"d":"2008-12-22","s":0.85,"o":0.3}
  ]},
  "layer":[
   {"mark":{"type":"line","color":"#aaaaaa","strokeWidth":1},"encoding":{"y":{"field":"o","type":"quantitative","title":"Streamflow (mm)","scale":{"type":"log","domain":[0.01,10000],"nice":false},"axis":{"orient":"left","values":[0.01,0.1,1,10,100,1000,10000],"format":".1f","ticks":false,"labelPadding":7,"grid":true,"labelOverlap":false,"titleFontSize":12,"titlePadding":10}}}},
   {"mark":{"type":"line","color":"#000","strokeWidth":1},"encoding":{"y":{"field":"s","type":"quantitative","title":"Streamflow (mm)","scale":{"type":"log","domain":[0.01,10000],"nice":false},"axis":{"orient":"left","values":[0.01,0.1,1,10,100,1000,10000],"format":".1f","ticks":false,"labelPadding":7,"grid":true,"labelOverlap":false,"titleFontSize":12,"titlePadding":10}}}}
  ]},
  {"data":{"values":[
{"d":"2003-03-15","p":10},{"d":"2003-04-10","p":20},{"d":"2003-04-25","p":30},{"d":"2003-05-01","p":65},{"d":"2003-05-20","p":25},{"d":"2003-06-05","p":30},{"d":"2003-06-14","p":65},{"d":"2003-06-28","p":40},{"d":"2003-07-05","p":80},{"d":"2003-07-12","p":125},{"d":"2003-07-16","p":70},{"d":"2003-07-20","p":60},{"d":"2003-07-29","p":130},{"d":"2003-08-02","p":100},{"d":"2003-08-05","p":90},{"d":"2003-08-12","p":70},{"d":"2003-08-16","p":120},{"d":"2003-08-20","p":135},{"d":"2003-08-25","p":110},{"d":"2003-09-05","p":60},{"d":"2003-09-13","p":80},{"d":"2003-09-25","p":50},{"d":"2003-10-05","p":15},{"d":"2003-10-20","p":20},{"d":"2003-11-10","p":10},{"d":"2003-12-10","p":6},
{"d":"2004-01-20","p":8},{"d":"2004-02-19","p":50},{"d":"2004-03-15","p":8},{"d":"2004-04-15","p":25},{"d":"2004-05-05","p":40},{"d":"2004-05-25","p":35},{"d":"2004-06-10","p":60},{"d":"2004-06-25","p":50},{"d":"2004-07-03","p":70},{"d":"2004-07-10","p":140},{"d":"2004-07-20","p":60},{"d":"2004-08-02","p":70},{"d":"2004-08-15","p":45},{"d":"2004-08-28","p":60},{"d":"2004-09-10","p":55},{"d":"2004-10-01","p":15},{"d":"2004-10-20","p":10},{"d":"2004-11-15","p":8},{"d":"2004-12-10","p":5},
{"d":"2005-01-20","p":5},{"d":"2005-03-10","p":6},{"d":"2005-04-08","p":30},{"d":"2005-05-01","p":15},{"d":"2005-05-20","p":25},{"d":"2005-06-10","p":55},{"d":"2005-06-20","p":40},{"d":"2005-07-01","p":60},{"d":"2005-07-10","p":45},{"d":"2005-07-20","p":70},{"d":"2005-08-01","p":50},{"d":"2005-08-06","p":88},{"d":"2005-08-15","p":40},{"d":"2005-08-25","p":65},{"d":"2005-09-10","p":30},{"d":"2005-10-05","p":15},{"d":"2005-11-01","p":10},{"d":"2005-12-01","p":5},
{"d":"2006-01-08","p":12},{"d":"2006-02-10","p":5},{"d":"2006-03-20","p":15},{"d":"2006-04-10","p":25},{"d":"2006-05-05","p":15},{"d":"2006-05-20","p":20},{"d":"2006-06-10","p":40},{"d":"2006-06-20","p":60},{"d":"2006-07-01","p":70},{"d":"2006-07-06","p":80},{"d":"2006-07-12","p":186},{"d":"2006-07-20","p":60},{"d":"2006-07-28","p":50},{"d":"2006-08-08","p":40},{"d":"2006-08-20","p":30},{"d":"2006-09-10","p":20},{"d":"2006-10-05","p":10},{"d":"2006-11-10","p":8},{"d":"2006-12-05","p":5},
{"d":"2007-01-20","p":5},{"d":"2007-03-05","p":10},{"d":"2007-04-10","p":15},{"d":"2007-05-20","p":30},{"d":"2007-06-05","p":40},{"d":"2007-06-20","p":50},{"d":"2007-07-01","p":60},{"d":"2007-07-10","p":65},{"d":"2007-07-20","p":45},{"d":"2007-08-01","p":55},{"d":"2007-08-10","p":60},{"d":"2007-08-20","p":40},{"d":"2007-08-29","p":50},{"d":"2007-09-15","p":20},{"d":"2007-10-10","p":10},{"d":"2007-11-15","p":6},{"d":"2007-12-10","p":5},
{"d":"2008-01-10","p":5},{"d":"2008-02-15","p":10},{"d":"2008-03-20","p":30},{"d":"2008-04-27","p":40},{"d":"2008-05-15","p":35},{"d":"2008-06-01","p":55},{"d":"2008-06-18","p":60},{"d":"2008-07-03","p":65},{"d":"2008-07-13","p":50},{"d":"2008-07-19","p":100},{"d":"2008-07-24","p":230},{"d":"2008-07-28","p":80},{"d":"2008-08-05","p":50},{"d":"2008-08-15","p":60},{"d":"2008-08-28","p":75},{"d":"2008-09-02","p":70},{"d":"2008-09-20","p":10},{"d":"2008-10-20","p":15},{"d":"2008-11-15","p":10},{"d":"2008-11-28","p":12},{"d":"2008-12-10","p":8}
  ]},
  "mark":{"type":"rule","color":"#000","strokeWidth":2},
  "encoding":{"y":{"field":"p","type":"quantitative","title":"Precipitation (mm)","scale":{"domain":[0,800],"reverse":true,"nice":false},"axis":{"orient":"right","values":[0,200,400,600,800],"format":"d","tickSize":3,"labelPadding":3,"grid":false,"labelOverlap":false,"titleFontSize":11,"titleAngle":270,"titleBaseline":"top","titlePadding":14}},"y2":{"datum":0}}}
 ],
 "resolve":{"scale":{"y":"independent"}}},
{"width":398,"height":54,
 "encoding":{"y":{"datum":0,"type":"quantitative","scale":{"domain":[0,54],"reverse":true,"nice":false},"axis":null}},
 "layer":[
  {"data":{"values":[{"d":"2004-01-01"},{"d":"2005-01-01"},{"d":"2006-01-01"}]},"mark":{"type":"rule","color":"#777","strokeWidth":1},"encoding":{"x":{"field":"d","type":"temporal","scale":{"domain":[{"year":2003,"month":1,"date":1},{"year":2008,"month":12,"date":31}]},"axis":null},"y2":{"datum":17}}},
  {"data":{"values":[{"d":"2003-01-01"},{"d":"2007-01-01"},{"d":"2008-01-01"},{"d":"2008-12-31"}]},"mark":{"type":"rule","color":"#777","strokeWidth":1},"encoding":{"x":{"field":"d","type":"temporal","scale":{"domain":[{"year":2003,"month":1,"date":1},{"year":2008,"month":12,"date":31}]},"axis":null},"y2":{"datum":37}}},
  {"data":{"values":[{"m":"2003-07-02","t":"2003"},{"m":"2004-07-02","t":"2004"},{"m":"2005-07-02","t":"2005"},{"m":"2006-07-02","t":"2006"},{"m":"2007-07-02","t":"2007"},{"m":"2008-07-02","t":"2008"}]},"mark":{"type":"text","fontSize":9,"baseline":"middle"},"encoding":{"x":{"field":"m","type":"temporal","scale":{"domain":[{"year":2003,"month":1,"date":1},{"year":2008,"month":12,"date":31}]},"axis":null},"y":{"datum":19,"type":"quantitative","scale":{"domain":[0,54],"reverse":true,"nice":false},"axis":null},"text":{"field":"t"}}},
  {"data":{"values":[{"a":"2003-01-01","b":"2007-01-01"},{"a":"2007-01-01","b":"2008-01-01"},{"a":"2008-01-01","b":"2008-12-31"}]},
   "encoding":{"y":{"datum":27,"type":"quantitative","scale":{"domain":[0,54],"reverse":true,"nice":false},"axis":null}},
   "layer":[
    {"mark":{"type":"rule","color":"#888","strokeWidth":1},"encoding":{"x":{"field":"a","type":"temporal","scale":{"domain":[{"year":2003,"month":1,"date":1},{"year":2008,"month":12,"date":31}]},"axis":null},"x2":{"field":"b"}}},
    {"mark":{"type":"point","shape":"M2,-1L0,0L2,1","filled":false,"size":16,"color":"#777","strokeWidth":1,"opacity":1},"encoding":{"x":{"field":"a","type":"temporal","scale":{"domain":[{"year":2003,"month":1,"date":1},{"year":2008,"month":12,"date":31}]},"axis":null}}},
    {"mark":{"type":"point","shape":"M-2,-1L0,0L-2,1","filled":false,"size":16,"color":"#777","strokeWidth":1,"opacity":1},"encoding":{"x":{"field":"b","type":"temporal","scale":{"domain":[{"year":2003,"month":1,"date":1},{"year":2008,"month":12,"date":31}]},"axis":null}}}
   ]},
  {"data":{"values":[{"m":"2005-01-01","t":"Verification\nPeriod"},{"m":"2007-07-02","t":"Calibration\nPeriod"},{"m":"2008-07-02","t":"Verification\nPeriod"}]},"mark":{"type":"text","fontSize":9,"baseline":"top","lineBreak":"\n","lineHeight":11},"encoding":{"x":{"field":"m","type":"temporal","scale":{"domain":[{"year":2003,"month":1,"date":1},{"year":2008,"month":12,"date":31}]},"axis":null},"y":{"datum":31,"type":"quantitative","scale":{"domain":[0,54],"reverse":true,"nice":false},"axis":null},"text":{"field":"t"}}}
 ]}
]
}
